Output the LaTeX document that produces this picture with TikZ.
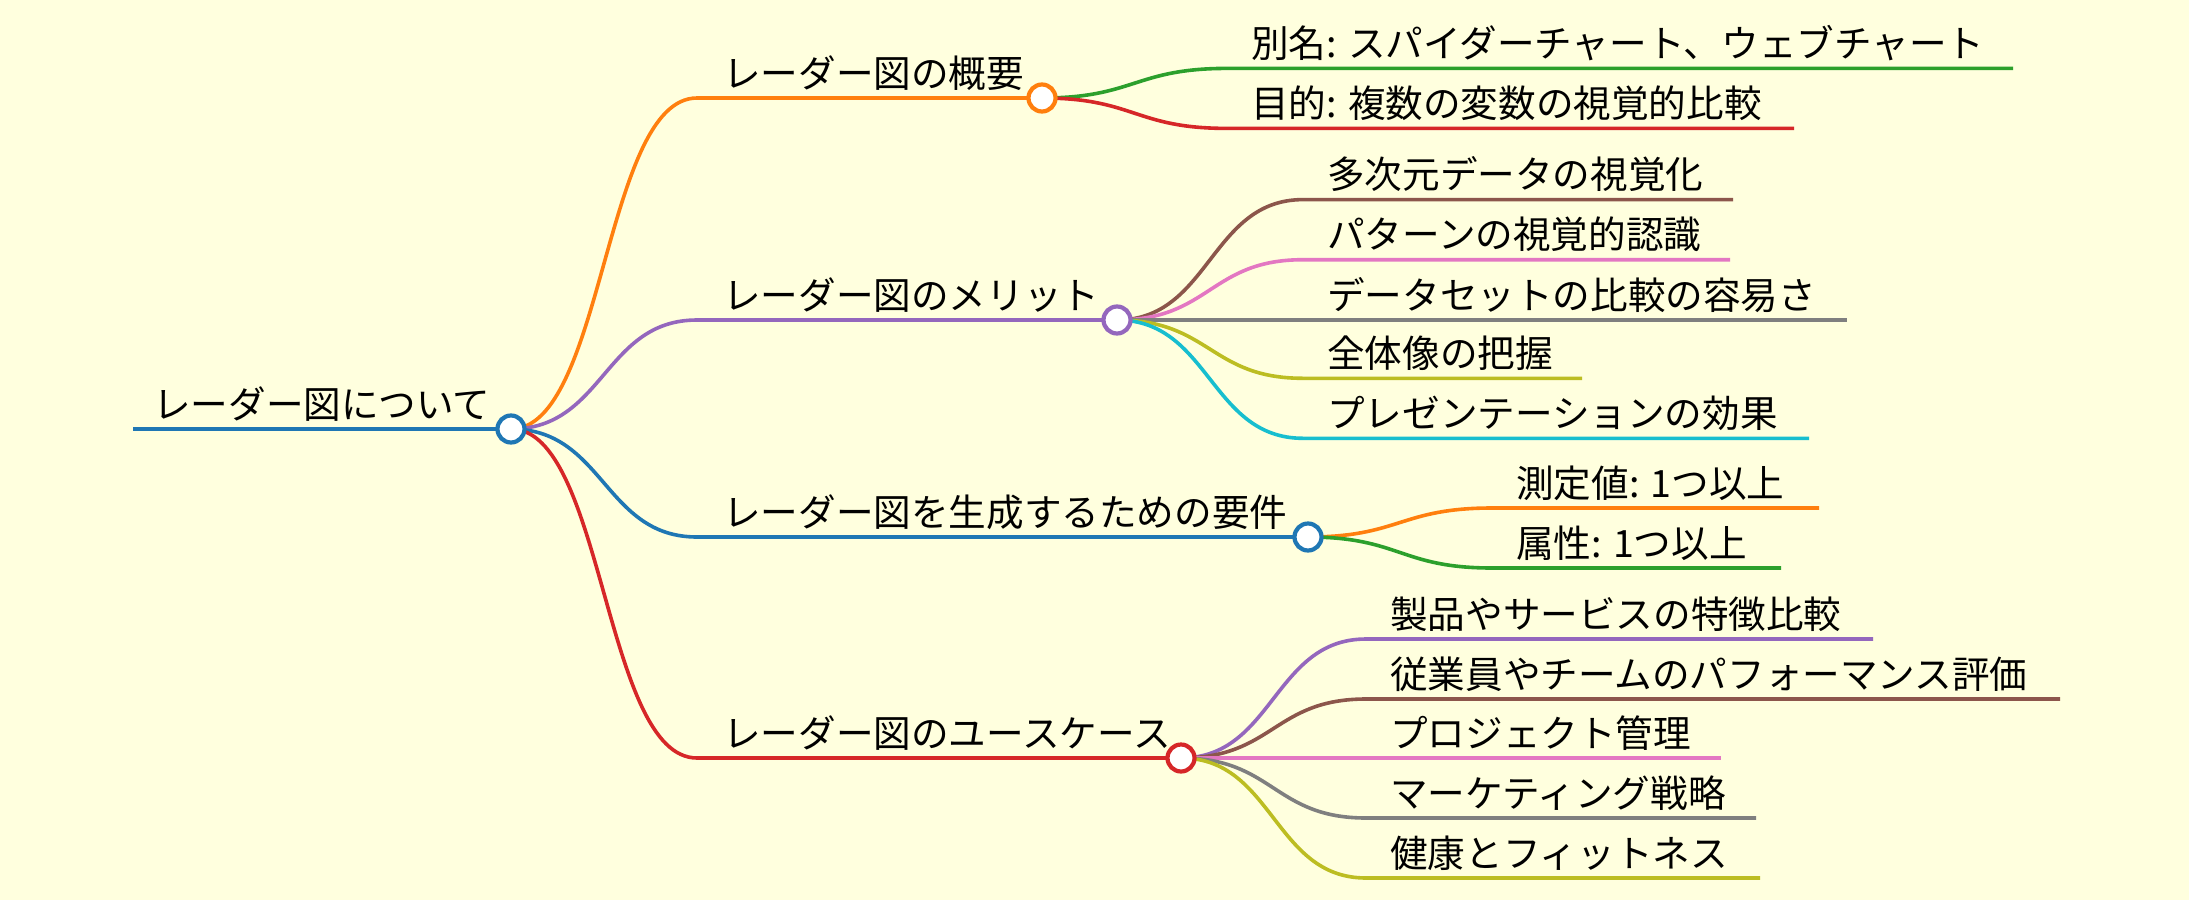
\documentclass[tikz,border=0pt]{standalone}
\usepackage{fontspec}
\newfontfamily\jpfont{Noto Sans CJK JP}
\usetikzlibrary{calc}
\definecolor{bg}{HTML}{FFFFDE}
\definecolor{cblue}{HTML}{1F77B4}
\definecolor{corange}{HTML}{FF7F0E}
\definecolor{cgreen}{HTML}{2CA02C}
\definecolor{cred}{HTML}{D62728}
\definecolor{cpurple}{HTML}{9467BD}
\definecolor{cbrown}{HTML}{8C564B}
\definecolor{cpink}{HTML}{E377C2}
\definecolor{cgray}{HTML}{7F7F7F}
\definecolor{colive}{HTML}{BCBD22}
\definecolor{ccyan}{HTML}{17BECF}
\tikzset{
  lbl/.style={inner sep=0pt, font=\jpfont\fontsize{37.6}{42}\selectfont, text=black},
  leafline/.style={line width=3.6pt},
  dot/.style={circle, fill=white, draw=#1, line width=4.2pt, minimum size=27pt, inner sep=0pt},
}
\newcommand\mmleaf[8]{%
  \coordinate (#1L) at (#5,#4);
  \coordinate (#1E) at (#7,#4);
  \coordinate (#1M) at ($(#2)!0.5!(#1L)$);
  \draw[leafline,#3] (#2) .. controls (#1M |- #2) and (#1M |- #1L) .. (#1L) -- (#1E);
  \node[lbl,anchor=base west] (#1) at (#6-3,#4-11) {#8};
}
\begin{document}
\begin{tikzpicture}[x=1pt,y=-1pt]
\fill[bg] (0,0) rectangle (2189,900);
\useasboundingbox (0,0) rectangle (2189,900);
% circle centres
\coordinate (c0) at (511,429);
\coordinate (c1) at (1042,98);
\coordinate (c2) at (1117,320);
\coordinate (c3) at (1308,537);
\coordinate (c4) at (1181,758);
% root
\coordinate (rootL) at (133,429);
\draw[line width=4.6pt, cblue] (rootL) -- (c0);
\node[lbl,anchor=base west] (rootT) at (153,418) {レーダー図について};
% main branches
\mmleaf{bA}{c0}{corange}{98}{697}{726}{1042}{レーダー図の概要}
\mmleaf{bB}{c0}{cpurple}{320}{697}{726}{1117}{レーダー図のメリット}
\mmleaf{bC}{c0}{cblue}{537}{697}{726}{1308}{レーダー図を生成するための要件}
\mmleaf{bD}{c0}{cred}{758}{697}{726}{1181}{レーダー図のユースケース}
% branch A leaves
\mmleaf{aA}{c1}{cgreen}{68.4}{1227}{1254}{2013}{別名: スパイダーチャート、ウェブチャート}
\mmleaf{aB}{c1}{cred}{128.4}{1227}{1254}{1794}{目的: 複数の変数の視覚的比較}
% branch B leaves
\mmleaf{mA}{c2}{cbrown}{199.6}{1303}{1330}{1733}{多次元データの視覚化}
\mmleaf{mB}{c2}{cpink}{259.7}{1303}{1330}{1730}{パターンの視覚的認識}
\mmleaf{mC}{c2}{cgray}{320}{1303}{1330}{1847}{データセットの比較の容易さ}
\mmleaf{mD}{c2}{colive}{378.3}{1303}{1330}{1582}{全体像の把握}
\mmleaf{mE}{c2}{ccyan}{438.3}{1303}{1330}{1809}{プレゼンテーションの効果}
% branch C leaves
\mmleaf{rA}{c3}{corange}{508}{1492}{1519}{1819}{測定値: 1つ以上}
\mmleaf{rB}{c3}{cgreen}{568}{1492}{1519}{1781}{属性: 1つ以上}
% branch D leaves
\mmleaf{uA}{c4}{cpurple}{639}{1366}{1393}{1873}{製品やサービスの特徴比較}
\mmleaf{uB}{c4}{cbrown}{699}{1366}{1393}{2060}{従業員やチームのパフォーマンス評価}
\mmleaf{uC}{c4}{cpink}{758}{1366}{1393}{1721}{プロジェクト管理}
\mmleaf{uD}{c4}{cgray}{818}{1366}{1393}{1756}{マーケティング戦略}
\mmleaf{uE}{c4}{colive}{878}{1366}{1393}{1760}{健康とフィットネス}
% circles on top
\node[dot=cblue] (root) at (c0) {};
\node[dot=corange] (nA) at (c1) {};
\node[dot=cpurple] (nB) at (c2) {};
\node[dot=cblue] (nC) at (c3) {};
\node[dot=cred] (nD) at (c4) {};
\end{tikzpicture}
\end{document}
